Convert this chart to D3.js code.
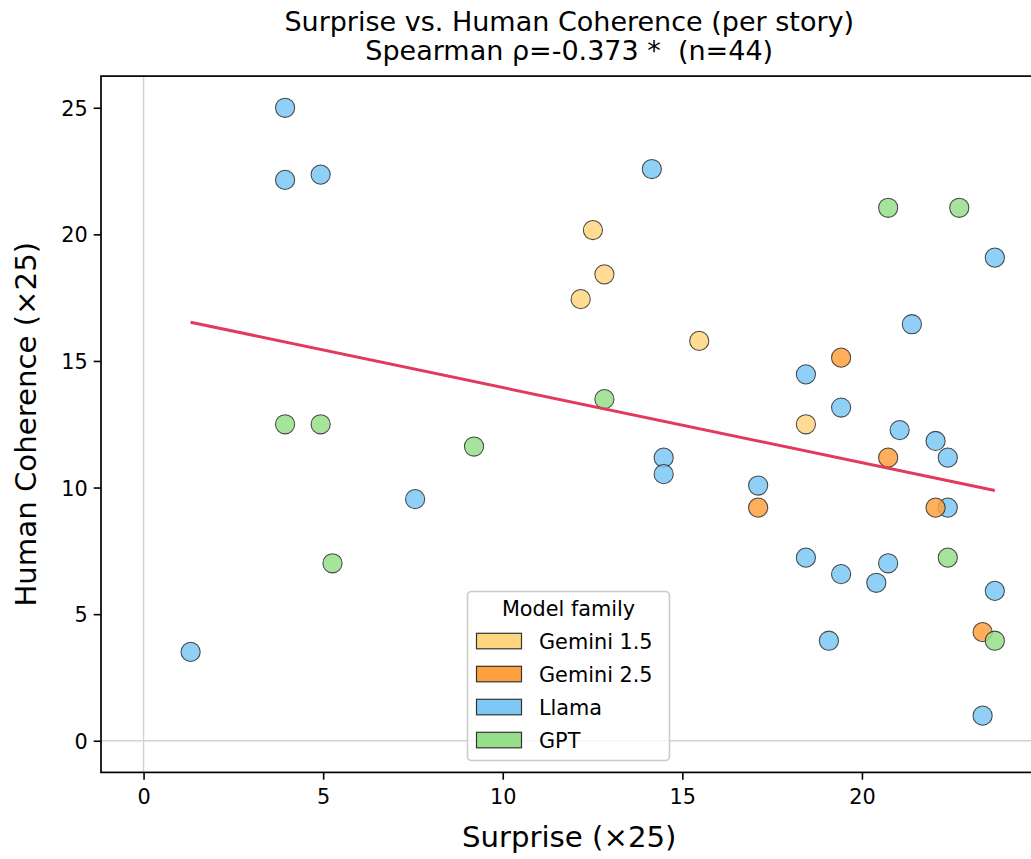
<!DOCTYPE html>
<html><head><meta charset="utf-8">
<script src="https://cdn.jsdelivr.net/npm/d3@7"></script>
<style>
html,body{margin:0;padding:0;background:#fff;}
svg{display:block;font-family:"DejaVu Sans",sans-serif;}
text{white-space:pre;}
</style></head>
<body><svg id="c" width="1031" height="859"></svg>
<script>
// ---- data ----
const families = ["Gemini 1.5", "Gemini 2.5", "Llama", "GPT"];
const familyColors = ["#FFD580", "#FFA040", "#7EC8F5", "#98DF8A"];
const drawOrder = ["Gemini 1.5", "Llama", "Gemini 2.5", "GPT"];

const gemini15X = [12.51, 12.83, 12.17, 15.47, 18.44];
const gemini15Y = [20.17, 18.42, 17.44, 15.79, 12.50];

const gemini25X = [19.42, 20.73, 17.11, 22.05, 23.36];
const gemini25Y = [15.13, 11.18, 9.21, 9.21, 4.29];

const llamaX = [3.94, 3.94, 4.93, 14.15, 23.70, 21.39, 18.44, 19.42, 7.56, 1.31, 21.05, 22.05,
                22.39, 14.48, 14.48, 17.11, 22.39, 18.44, 19.42, 20.73, 20.40, 23.70, 19.08, 23.36];
const llamaY = [25.00, 22.15, 22.36, 22.58, 19.08, 16.45, 14.47, 13.16, 9.54, 3.51, 12.27, 11.84,
                11.18, 11.18, 10.53, 10.08, 9.21, 7.23, 6.58, 7.01, 6.24, 5.92, 3.95, 0.99];

const gptX = [20.73, 22.71, 12.83, 3.94, 4.93, 9.20, 5.26, 22.39, 23.70];
const gptY = [21.05, 21.05, 13.49, 12.50, 12.50, 11.62, 7.01, 7.23, 3.95];

const trendX = [1.31, 23.70];
const trendY = [16.53, 9.88];

const xTicks = [0, 5, 10, 15, 20];
const yTicks = [0, 5, 10, 15, 20, 25];
const xDomain = [-1.185, 24.885];
const yDomain = [-1.25, 26.25];

const titleLines = ["Surprise vs. Human Coherence (per story)", "Spearman \u03c1=-0.373 *  (n=44)"];
const xLabel = "Surprise (\u00d725)";
const yLabel = "Human Coherence (\u00d725)";
const legendTitle = "Model family";

const seriesData = {
  "Gemini 1.5": gemini15X.map((x, i) => ({x, y: gemini15Y[i]})),
  "Gemini 2.5": gemini25X.map((x, i) => ({x, y: gemini25Y[i]})),
  "Llama": llamaX.map((x, i) => ({x, y: llamaY[i]})),
  "GPT": gptX.map((x, i) => ({x, y: gptY[i]}))
};

// ---- layout ----
const L = 101, R = 1037.4, T = 76.1, B = 772.4;
const svg = d3.select("#c");
const color = d3.scaleOrdinal().domain(families).range(familyColors);
const x = d3.scaleLinear().domain(xDomain).range([L, R]);
const y = d3.scaleLinear().domain(yDomain).range([B, T]);

const plot = svg.append("g");
plot.append("defs").append("clipPath").attr("id", "clip")
  .append("rect").attr("x", L).attr("y", T).attr("width", R - L).attr("height", B - T);

// reference lines at 0
plot.append("line").attr("x1", x(0)).attr("x2", x(0)).attr("y1", T).attr("y2", B)
  .attr("stroke", "#d3d3d3").attr("stroke-width", 1.4);
plot.append("line").attr("x1", L).attr("x2", R).attr("y1", y(0)).attr("y2", y(0))
  .attr("stroke", "#d3d3d3").attr("stroke-width", 1.4);

// points
const pts = plot.append("g").attr("clip-path", "url(#clip)");
drawOrder.forEach(f => {
  pts.selectAll(null).data(seriesData[f]).enter().append("circle")
    .attr("cx", d => x(d.x)).attr("cy", d => y(d.y)).attr("r", 9.6)
    .attr("fill", color(f)).attr("fill-opacity", 0.85)
    .attr("stroke", "#222").attr("stroke-opacity", 0.8).attr("stroke-width", 1.05);
});

// trend line
plot.append("path")
  .datum(trendX.map((v, i) => [v, trendY[i]]))
  .attr("d", d3.line().x(d => x(d[0])).y(d => y(d[1])))
  .attr("fill", "none").attr("stroke", "#E23A5C").attr("stroke-width", 3);

// axes
const xAxis = svg.append("g").attr("transform", `translate(0,${B})`)
  .call(d3.axisBottom(x).tickValues(xTicks).tickSize(7.3).tickPadding(5).tickFormat(d3.format("d")));
const yAxis = svg.append("g").attr("transform", `translate(${L},0)`)
  .call(d3.axisLeft(y).tickValues(yTicks).tickSize(7.3).tickPadding(6).tickFormat(d3.format("d")));
[xAxis, yAxis].forEach(a => {
  a.select(".domain").remove();
  a.selectAll(".tick line").attr("stroke", "#000").attr("stroke-width", 1.6);
  a.selectAll(".tick text").attr("fill", "#000").style("font-size", "20.8px")
    .style("font-family", "'DejaVu Sans', sans-serif");
});
xAxis.selectAll(".tick text").attr("dy", "0.95em");
yAxis.selectAll(".tick text").attr("dy", "0.36em");

// spines
svg.append("rect").attr("x", L).attr("y", T).attr("width", R - L).attr("height", B - T)
  .attr("fill", "none").attr("stroke", "#000").attr("stroke-width", 1.7);

// labels
svg.append("text").attr("x", (L + R) / 2).attr("y", 847).attr("text-anchor", "middle")
  .style("font-size", "29.2px").text(xLabel);
svg.append("text").attr("transform", `translate(36,${(T + B) / 2}) rotate(-90)`)
  .attr("text-anchor", "middle").style("font-size", "29.2px").text(yLabel);

// title
titleLines.forEach((t, i) => {
  svg.append("text").attr("x", (L + R) / 2).attr("y", 31 + i * 29).attr("text-anchor", "middle")
    .attr("xml:space", "preserve").style("white-space", "pre")
    .style("font-size", "27px").text(t);
});

// legend
const lg = svg.append("g");
lg.append("rect").attr("x", 467.5).attr("y", 591.5).attr("width", 202).attr("height", 169).attr("rx", 4)
  .attr("fill", "#fff").attr("fill-opacity", 0.8).attr("stroke", "#cccccc").attr("stroke-width", 1.6);
lg.append("text").attr("x", 568.5).attr("y", 616).attr("text-anchor", "middle")
  .style("font-size", "20.8px").text(legendTitle);
families.forEach((f, i) => {
  const yy = 633.3 + i * 33;
  lg.append("rect").attr("x", 476.5).attr("y", yy).attr("width", 45).attr("height", 15.5)
    .attr("fill", color(f)).attr("stroke", "#333").attr("stroke-width", 1.2);
  lg.append("text").attr("x", 539).attr("y", yy + 15.2).style("font-size", "20.8px").text(f);
});
</script></body></html>
